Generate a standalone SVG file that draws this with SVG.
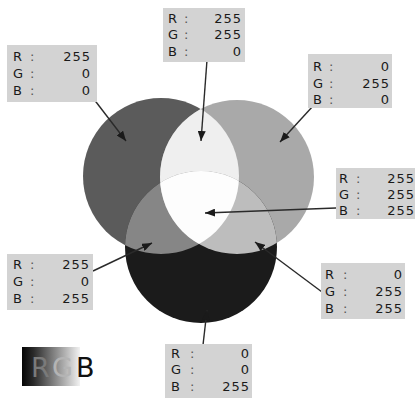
<svg xmlns="http://www.w3.org/2000/svg" width="417" height="398" viewBox="0 0 417 398">
  <style>
    .box { fill: #d3d3d3; }
    .lbl { font-family: "DejaVu Sans", "Liberation Sans", sans-serif; font-size: 13px; fill: #1a1a1a; }
    .col { fill: #555555; }
    .val { text-anchor: end; letter-spacing: 1px; }
    .conn { stroke: #2a2a2a; stroke-width: 1.4; fill: none; }
    .logo { font-family: "DejaVu Sans", "Liberation Sans", sans-serif; font-size: 27px; }
  </style>
  <defs>
    <marker id="arrow" viewBox="0 0 10 8" refX="10" refY="4" markerWidth="10" markerHeight="8" markerUnits="userSpaceOnUse" orient="auto">
      <path d="M0,0 L10,4 L0,8 Z" fill="#1a1a1a"/>
    </marker>
    <clipPath id="clipRed"><circle cx="161" cy="176" r="78"/></clipPath>
    <clipPath id="clipGreen"><circle cx="237" cy="177" r="77"/></clipPath>
    <linearGradient id="logoGrad" x1="0" y1="0" x2="1" y2="0">
      <stop offset="0" stop-color="#050505"/>
      <stop offset="0.2" stop-color="#2a2a2a"/>
      <stop offset="1" stop-color="#f2f2f2"/>
    </linearGradient>
  </defs>

  <rect width="417" height="398" fill="#ffffff"/>

  <!-- additive colour circles -->
  <g id="venn">
    <circle id="red" cx="161" cy="176" r="78" fill="#5b5b5b"/>
    <circle id="green" cx="237" cy="177" r="77" fill="#a9a9a9"/>
    <circle id="blue" cx="201" cy="247" r="76" fill="#1b1b1b"/>
    <!-- red + green -->
    <circle cx="237" cy="177" r="77" fill="#efefef" clip-path="url(#clipRed)"/>
    <!-- red + blue -->
    <circle cx="201" cy="247" r="76" fill="#868686" clip-path="url(#clipRed)"/>
    <!-- green + blue -->
    <circle cx="201" cy="247" r="76" fill="#bdbdbd" clip-path="url(#clipGreen)"/>
    <!-- red + green + blue -->
    <g clip-path="url(#clipRed)">
      <circle cx="201" cy="247" r="76" fill="#fdfdfd" clip-path="url(#clipGreen)"/>
    </g>
  </g>

  <!-- connectors -->
  <g id="connectors">
    <line class="conn" x1="93" y1="98" x2="126" y2="141" marker-end="url(#arrow)"/>
    <line class="conn" x1="207" y1="60" x2="201" y2="141" marker-end="url(#arrow)"/>
    <line class="conn" x1="313" y1="106" x2="280" y2="142" marker-end="url(#arrow)"/>
    <line class="conn" x1="336" y1="208" x2="205" y2="213" marker-end="url(#arrow)"/>
    <line class="conn" x1="93" y1="271" x2="152" y2="243" marker-end="url(#arrow)"/>
    <line class="conn" x1="322" y1="292" x2="255" y2="242" marker-end="url(#arrow)"/>
    <line class="conn" x1="203" y1="345" x2="207" y2="310" marker-end="url(#arrow)"/>
  </g>

  <!-- value labels -->
  <g id="label-red">
    <rect class="box" x="7" y="45" width="90" height="57"/>
    <text class="lbl" x="13" y="61">R</text><text class="lbl col" x="30" y="61">:</text><text class="lbl val" x="91" y="61">255</text>
    <text class="lbl" x="13" y="78">G</text><text class="lbl col" x="30" y="78">:</text><text class="lbl val" x="91" y="78">0</text>
    <text class="lbl" x="13" y="95">B</text><text class="lbl col" x="30" y="95">:</text><text class="lbl val" x="91" y="95">0</text>
  </g>

  <g id="label-yellow">
    <rect class="box" x="163" y="8" width="82" height="54"/>
    <text class="lbl" x="168" y="23">R</text><text class="lbl col" x="184" y="23">:</text><text class="lbl val" x="242" y="23">255</text>
    <text class="lbl" x="168" y="39">G</text><text class="lbl col" x="184" y="39">:</text><text class="lbl val" x="242" y="39">255</text>
    <text class="lbl" x="168" y="56">B</text><text class="lbl col" x="184" y="56">:</text><text class="lbl val" x="242" y="56">0</text>
  </g>

  <g id="label-green">
    <rect class="box" x="308" y="54" width="84" height="54"/>
    <text class="lbl" x="313" y="71">R</text><text class="lbl col" x="329" y="71">:</text><text class="lbl val" x="390" y="71">0</text>
    <text class="lbl" x="313" y="88">G</text><text class="lbl col" x="329" y="88">:</text><text class="lbl val" x="390" y="88">255</text>
    <text class="lbl" x="313" y="104">B</text><text class="lbl col" x="329" y="104">:</text><text class="lbl val" x="390" y="104">0</text>
  </g>

  <g id="label-white">
    <rect class="box" x="336" y="168" width="79" height="51"/>
    <text class="lbl" x="339" y="183">R</text><text class="lbl col" x="356" y="183">:</text><text class="lbl val" x="415" y="183">255</text>
    <text class="lbl" x="339" y="199">G</text><text class="lbl col" x="356" y="199">:</text><text class="lbl val" x="415" y="199">255</text>
    <text class="lbl" x="339" y="215">B</text><text class="lbl col" x="356" y="215">:</text><text class="lbl val" x="415" y="215">255</text>
  </g>

  <g id="label-magenta">
    <rect class="box" x="7" y="254" width="86" height="56"/>
    <text class="lbl" x="13" y="269">R</text><text class="lbl col" x="30" y="269">:</text><text class="lbl val" x="90" y="269">255</text>
    <text class="lbl" x="13" y="286">G</text><text class="lbl col" x="30" y="286">:</text><text class="lbl val" x="90" y="286">0</text>
    <text class="lbl" x="13" y="303">B</text><text class="lbl col" x="30" y="303">:</text><text class="lbl val" x="90" y="303">255</text>
  </g>

  <g id="label-cyan">
    <rect class="box" x="321" y="263" width="84" height="56"/>
    <text class="lbl" x="325" y="279">R</text><text class="lbl col" x="343" y="279">:</text><text class="lbl val" x="403" y="279">0</text>
    <text class="lbl" x="325" y="296">G</text><text class="lbl col" x="343" y="296">:</text><text class="lbl val" x="403" y="296">255</text>
    <text class="lbl" x="325" y="313">B</text><text class="lbl col" x="343" y="313">:</text><text class="lbl val" x="403" y="313">255</text>
  </g>

  <g id="label-blue">
    <rect class="box" x="165" y="344" width="87" height="54"/>
    <text class="lbl" x="171" y="358">R</text><text class="lbl col" x="190" y="358">:</text><text class="lbl val" x="250" y="358">0</text>
    <text class="lbl" x="171" y="374">G</text><text class="lbl col" x="190" y="374">:</text><text class="lbl val" x="250" y="374">0</text>
    <text class="lbl" x="171" y="391">B</text><text class="lbl col" x="190" y="391">:</text><text class="lbl val" x="250" y="391">255</text>
  </g>

  <!-- RGB badge -->
  <g id="rgb-logo">
    <rect x="22" y="347" width="58" height="39" fill="url(#logoGrad)"/>
    <text class="logo" x="31" y="377" fill="#7a7a7a">R</text>
    <text class="logo" x="52" y="377" fill="#b4b4b4">G</text>
    <text class="logo" x="76" y="377" fill="#111111">B</text>
  </g>
</svg>
